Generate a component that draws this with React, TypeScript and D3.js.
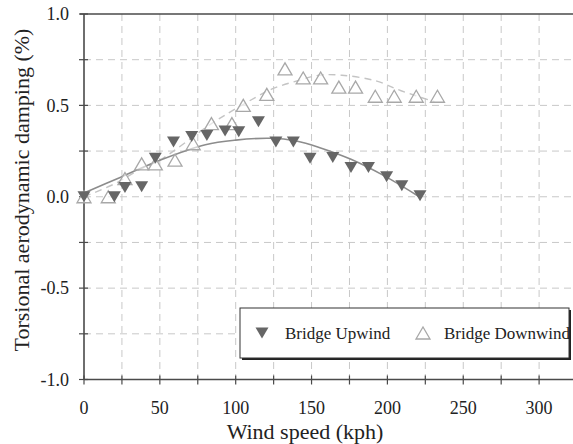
import React from "react";
import * as d3 from "d3";

const W = 573;
const H = 444;

// Bridge Upwind: wind speed (kph), torsional aerodynamic damping (%)
const upwindSpeed = [0, 20, 27, 38, 47, 59, 71, 81, 93, 102, 115, 126.5, 138, 149, 164, 176, 187.5, 199.5, 209.5, 221.5];
const upwindDamping = [0.0, 0.0, 0.05, 0.055, 0.21, 0.3, 0.33, 0.335, 0.36, 0.355, 0.41, 0.3, 0.3, 0.21, 0.215, 0.16, 0.16, 0.11, 0.06, 0.005];

// Bridge Downwind
const downwindSpeed = [0, 16, 27, 38, 47, 60, 72, 84, 97.5, 105, 120.5, 132.5, 144.5, 156, 168, 179, 192, 204.5, 219, 233];
const downwindDamping = [0.0, 0.0, 0.1, 0.18, 0.18, 0.2, 0.29, 0.4, 0.4, 0.5, 0.56, 0.7, 0.65, 0.65, 0.6, 0.6, 0.55, 0.55, 0.55, 0.55];

// Trend curves
const upwindFitSpeed = [0, 25, 50, 80, 100, 123, 140, 155, 176, 198, 221];
const upwindFitDamping = [0.02, 0.11, 0.2, 0.285, 0.31, 0.32, 0.305, 0.27, 0.205, 0.114, 0.0];
const downwindFitSpeed = [0, 20, 37, 50, 84, 106, 124, 141, 155, 170, 192, 209, 231];
const downwindFitDamping = [0.0, 0.07, 0.15, 0.2, 0.4, 0.51, 0.59, 0.635, 0.665, 0.665, 0.635, 0.58, 0.52];

const xTicks = [0, 50, 100, 150, 200, 250, 300];
const yTicks = [-1.0, -0.5, 0.0, 0.5, 1.0];
const xMinor = d3.range(0, 326, 25);
const yMinor = d3.range(-1, 1.001, 0.25);

const xLabel = "Wind speed (kph)";
const yLabel = "Torsional aerodynamic damping (%)";
const seriesNames = ["Bridge Upwind", "Bridge Downwind"];

const AXIS = "#4a4a4a";
const UP = "#666666";
const DOWN = "#a8a8a8";

const x = d3.scaleLinear().domain([0, 325]).range([84, 84 + 325 * 1.517]);
const y = d3.scaleLinear().domain([-1, 1]).range([379.5, 14]);

function tri(cx: number, cy: number, down: boolean, w = 12, h = 10.5) {
  const hw = w / 2, hh = h / 2;
  if (down) return `M${cx - hw},${cy - hh}L${cx + hw},${cy - hh}L${cx},${cy + hh}Z`;
  return `M${cx - hw},${cy + hh}L${cx + hw},${cy + hh}L${cx},${cy - hh}Z`;
}

const CSS = `svg.chart text { font-family: "Liberation Serif" !important; fill: #222; }`;

export default function App() {
  const line = d3
    .line<[number, number]>()
    .x((d) => x(d[0]))
    .y((d) => y(d[1]))
    .curve(d3.curveCatmullRom.alpha(0.5));

  const upFit = upwindFitSpeed.map((s, i) => [s, upwindFitDamping[i]] as [number, number]);
  const downFit = downwindFitSpeed.map((s, i) => [s, downwindFitDamping[i]] as [number, number]);

  const x0 = x(0);
  const xr = W;

  return (
    <svg className="chart" width={W} height={H} style={{ position: "absolute", left: 0, top: 0 }}>
      <style>{CSS}</style>
      <rect x={0} y={0} width={W} height={H} fill="#fff" />
      {/* grid */}
      <g stroke="#c8c8c8" strokeWidth={1} strokeDasharray="7,5">
        {xMinor.filter((v) => v > 0).map((v) => (
          <line key={"gx" + v} x1={x(v)} x2={x(v)} y1={y(1)} y2={y(-1)} />
        ))}
        {yMinor.filter((v) => v > -0.99 && v < 0.99).map((v) => (
          <line key={"gy" + v} x1={x0} x2={xr} y1={y(v)} y2={y(v)} />
        ))}
      </g>

      {/* axes */}
      <g stroke={AXIS} strokeWidth={1.6}>
        <line x1={x0} x2={x0} y1={y(1)} y2={y(-1)} />
        <line x1={x0} x2={xr} y1={y(-1)} y2={y(-1)} />
        <line x1={x0 - 4} x2={xr} y1={y(1)} y2={y(1)} />
      </g>
      <g stroke={AXIS} strokeWidth={1.2}>
        {yMinor.map((v) => (
          <line key={"ty" + v} x1={x0 - 5} x2={x0 + 4} y1={y(v)} y2={y(v)} />
        ))}
        {xMinor.map((v) => (
          <line key={"tx" + v} x1={x(v)} x2={x(v)} y1={y(-1) - 4} y2={y(-1) + 5} />
        ))}
      </g>

      {/* tick labels */}
      {yTicks.map((v) => (
        <text key={"yl" + v} fontFamily="Liberation Serif" fontSize={18} x={x0 - 15} y={y(v)} dy="0.35em" textAnchor="end">
          {v.toFixed(1)}
        </text>
      ))}
      {xTicks.map((v) => (
        <text key={"xl" + v} fontFamily="Liberation Serif" fontSize={18} x={x(v)} y={408} dy="0.35em" textAnchor="middle">
          {v}
        </text>
      ))}

      {/* axis titles */}
      <text fontFamily="Liberation Serif" fontSize={22} x={305} y={431} dy="0.35em" textAnchor="middle">
        {xLabel}
      </text>
      <text fontFamily="Liberation Serif" fontSize={22} transform="translate(21,190) rotate(-90)" dy="0.35em" textAnchor="middle">
        {yLabel}
      </text>

      {/* fit curves */}
      <path d={line(downFit) || ""} fill="none" stroke="#c4c4c4" strokeWidth={1.4} strokeDasharray="7,5" />
      <path d={line(upFit) || ""} fill="none" stroke="#8c8c8c" strokeWidth={1.6} />

      {/* markers */}
      {downwindSpeed.map((s, i) => (
        <path
          key={"d" + i}
          d={tri(x(s), y(downwindDamping[i]), false, 14, 12)}
          fill="#fff"
          fillOpacity={0.6}
          stroke={DOWN}
          strokeWidth={1.3}
        />
      ))}
      {upwindSpeed.map((s, i) => (
        <path key={"u" + i} d={tri(x(s), y(upwindDamping[i]), true, 13, 11)} fill={UP} />
      ))}

      {/* legend */}
      <rect x={242} y={310} width={329} height={50} fill="#222" />
      <rect x={240} y={308} width={329} height={50} fill="#fff" stroke="#333" strokeWidth={1} />
      <path d={tri(262, 333, true, 13, 11)} fill={UP} />
      <text fontFamily="Liberation Serif" fontSize={17} x={285} y={333} dy="0.35em">
        {seriesNames[0]}
      </text>
      <path d={tri(423, 333, false, 14, 12)} fill="#fff" stroke={DOWN} strokeWidth={1.3} />
      <text fontFamily="Liberation Serif" fontSize={17} x={444} y={333} dy="0.35em">
        {seriesNames[1]}
      </text>
    </svg>
  );
}
